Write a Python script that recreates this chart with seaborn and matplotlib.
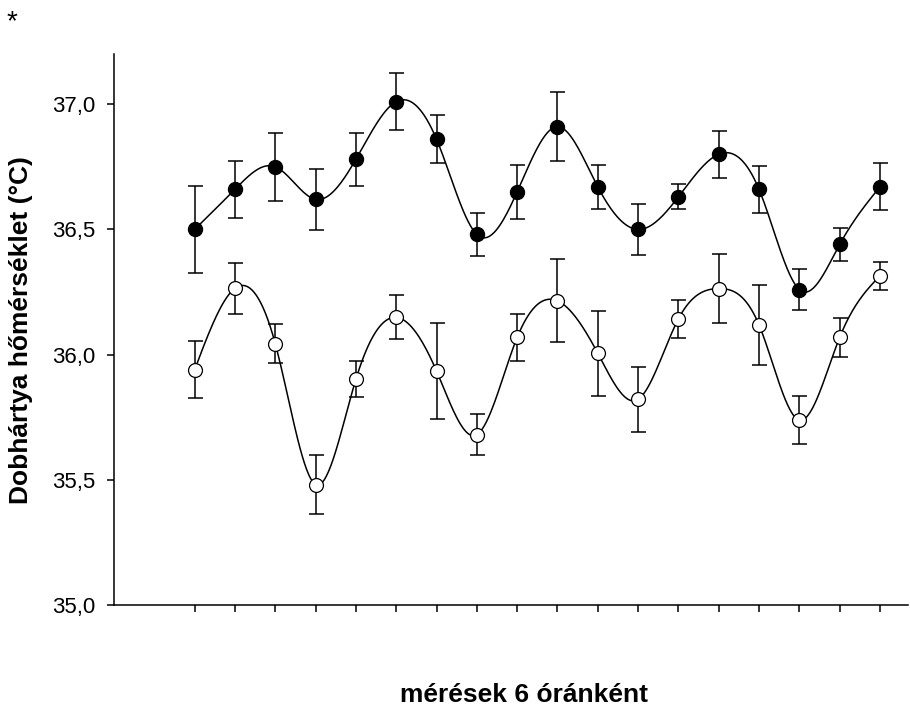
import numpy as np
import pandas as pd
import matplotlib
matplotlib.use("Agg")
import matplotlib.pyplot as plt
import seaborn as sns
from matplotlib.ticker import FuncFormatter, FixedLocator

# ---- data ----
measurement = list(range(18))
filled_mean = [36.50, 36.66, 36.75, 36.62, 36.78, 37.01, 36.86, 36.48, 36.65,
               36.91, 36.67, 36.50, 36.63, 36.80, 36.66, 36.26, 36.44, 36.67]
filled_err = [0.174, 0.114, 0.135, 0.121, 0.105, 0.115, 0.096, 0.087, 0.107,
              0.137, 0.088, 0.103, 0.050, 0.094, 0.095, 0.083, 0.067, 0.094]
open_mean = [35.94, 36.265, 36.044, 35.482, 35.902, 36.149, 35.935, 35.681, 36.069,
             36.215, 36.006, 35.822, 36.143, 36.264, 36.119, 35.739, 36.069, 36.315]
open_err = [0.113, 0.103, 0.079, 0.116, 0.071, 0.088, 0.190, 0.082, 0.094,
            0.166, 0.169, 0.130, 0.075, 0.139, 0.160, 0.095, 0.077, 0.055]
y_ticks = [35.0, 35.5, 36.0, 36.5, 37.0]
y_label = "Dobhártya hőmérséklet (°C)"
x_label = "mérések 6 óránként"


def natural_spline(x, y, xs):
    x = np.asarray(x, float)
    y = np.asarray(y, float)
    n = len(x)
    h = np.diff(x)
    A = np.zeros((n, n))
    r = np.zeros(n)
    A[0, 0] = A[-1, -1] = 1.0
    for i in range(1, n - 1):
        A[i, i - 1] = h[i - 1]
        A[i, i] = 2 * (h[i - 1] + h[i])
        A[i, i + 1] = h[i]
        r[i] = 3 * ((y[i + 1] - y[i]) / h[i] - (y[i] - y[i - 1]) / h[i - 1])
    c = np.linalg.solve(A, r)
    b = (y[1:] - y[:-1]) / h - h * (c[1:] + 2 * c[:-1]) / 3
    d = (c[1:] - c[:-1]) / (3 * h)
    idx = np.clip(np.searchsorted(x, xs) - 1, 0, n - 2)
    dx = xs - x[idx]
    return y[idx] + b[idx] * dx + c[idx] * dx ** 2 + d[idx] * dx ** 3


sns.set_theme(style="ticks")
plt.rcParams['font.family'] = ['Liberation Sans', 'DejaVu Sans']

fig = plt.figure(figsize=(9.10, 7.06), dpi=100)
ax = fig.add_axes([0.1253, 0.1426, 0.8727, 0.7809])

df = pd.DataFrame({
    "x": measurement * 2,
    "temp": filled_mean + open_mean,
    "err": filled_err + open_err,
    "group": ["filled"] * 18 + ["open"] * 18,
})

xs = np.linspace(measurement[0], measurement[-1], 600)
curves = pd.DataFrame({
    "x": np.concatenate([xs, xs]),
    "temp": np.concatenate([natural_spline(measurement, filled_mean, xs),
                            natural_spline(measurement, open_mean, xs)]),
    "group": ["filled"] * len(xs) + ["open"] * len(xs),
})

sns.lineplot(data=curves, x="x", y="temp", units="group", estimator=None,
             color="black", linewidth=1.1, ax=ax, zorder=1)

for g in ["filled", "open"]:
    sub = df[df.group == g]
    ax.errorbar(sub.x, sub.temp, yerr=sub.err, fmt="none", ecolor="black",
                elinewidth=1.1, capsize=5.4, capthick=1.1, zorder=2)

sns.scatterplot(data=df[df.group == "filled"], x="x", y="temp", s=105,
                color="black", edgecolor="black", linewidth=0.8, ax=ax,
                zorder=3, legend=False)
sns.scatterplot(data=df[df.group == "open"], x="x", y="temp", s=100,
                color="white", edgecolor="black", linewidth=0.9, ax=ax,
                zorder=3, legend=False)

ax.set_xlim(-2.0, 17.7)
ax.set_ylim(35.0, 37.2)
ax.xaxis.set_major_locator(FixedLocator(measurement))
ax.set_xticklabels([])
ax.yaxis.set_major_locator(FixedLocator(y_ticks))
ax.yaxis.set_major_formatter(FuncFormatter(lambda v, p: f"{v:.1f}".replace(".", ",")))
ax.tick_params(axis="both", direction="out", length=5.2, width=1.1,
               color="black", labelcolor="black")
ax.tick_params(axis="y", labelsize=16, pad=8)
sns.despine(ax=ax)
for s in ["left", "bottom"]:
    ax.spines[s].set_linewidth(1.1)
    ax.spines[s].set_color("black")

ax.set_xlabel(x_label, fontsize=19, fontweight="bold", color="black")
ax.xaxis.set_label_coords(0.516, -0.141)
ax.set_ylabel(y_label, fontsize=19, fontweight="bold", color="black")
ax.yaxis.set_label_coords(-0.102, 0.5)

fig.text(12 / 910, 1 - 22 / 706, "*", fontsize=20, ha="center", va="center",
         color="black")

fig.savefig("out.png", dpi=100, facecolor="white")
